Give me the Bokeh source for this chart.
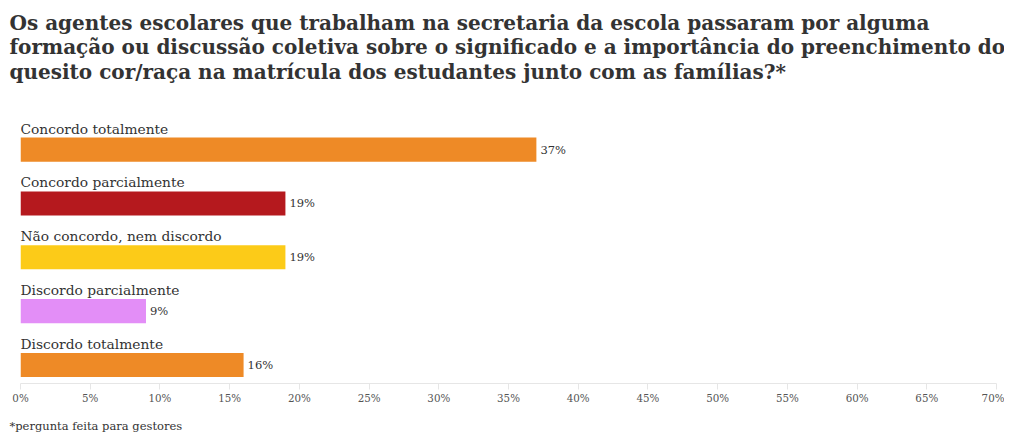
from bokeh.plotting import figure
from bokeh.models import Range1d, FixedTicker, CustomJSTickFormatter, Title, ColumnDataSource
from bokeh.core.properties import value
from bokeh.embed import file_html
from bokeh.resources import INLINE

categories = ["Concordo totalmente", "Concordo parcialmente", "Não concordo, nem discordo",
              "Discordo parcialmente", "Discordo totalmente"]
values = [37, 19, 19, 9, 16]
colors = ["#EE8A26", "#B5191E", "#FCCB18", "#E38EF7", "#EE8A26"]
tick_values = list(range(0, 75, 5))

title_text = ("Os agentes escolares que trabalham na secretaria da escola passaram por alguma\n"
              "formação ou discussão coletiva sobre o significado e a importância do preenchimento do\n"
              "quesito cor/raça na matrícula dos estudantes junto com as famílias?*")
note_text = "*pergunta feita para gestores"

FONT = "DejaVu Serif"
n = len(categories)
idx = list(range(n))
src = ColumnDataSource(dict(
    y=idx, v=values, c=colors, cat=categories,
    lab=[f"{v}%" for v in values],
))

p = figure(width=1004, height=442, output_backend="svg", toolbar_location=None,
           x_range=Range1d(0, 70), y_range=Range1d(n - 1 + 0.345, -0.746),
           min_border_left=20, min_border_right=8, min_border_top=109, min_border_bottom=0)
p.outline_line_color = None
p.grid.visible = False
p.yaxis.visible = False
p.background_fill_color = "white"
p.border_fill_color = "white"

p.hbar(y="y", left=0, right="v", height=0.448, fill_color="c", line_color=None, source=src)
p.text(x=0, y="y", text="cat", y_offset=-21, text_baseline="middle", text_align="left",
       text_font=value(FONT), text_font_size="13.8px", text_color="#333333", source=src)
p.text(x="v", y="y", text="lab", x_offset=4, text_baseline="middle", text_align="left",
       text_font=value(FONT), text_font_size="11.5px", text_color="#333333", source=src)

ax = p.xaxis[0]
ax.ticker = FixedTicker(ticks=tick_values)
ax.formatter = CustomJSTickFormatter(code="return tick + '%';")
ax.axis_line_color = "#e6e6e6"
ax.major_tick_line_color = "#e6e6e6"
ax.major_tick_in = 0
ax.major_tick_out = 6
ax.minor_tick_line_color = None
ax.major_label_text_font = FONT
ax.major_label_text_font_size = "10.3px"
ax.major_label_text_color = "#555555"
ax.major_label_standoff = 2

spacer = Title(text=" ", text_font=FONT, text_font_size="1px", standoff=14)
p.add_layout(spacer, "above")
t = Title(text=title_text, align="left", offset=-11, text_font=FONT, text_font_size="20px",
          text_font_style="bold", text_color="#333333", standoff=17, text_line_height=1.03)
p.add_layout(t, "above")

foot = Title(text=note_text, align="left", offset=-11, text_font=FONT, text_font_size="11.5px",
             text_font_style="normal", text_color="#333333", standoff=20)
p.add_layout(foot, "below")

open("out.html", "w").write(file_html(p, INLINE))
